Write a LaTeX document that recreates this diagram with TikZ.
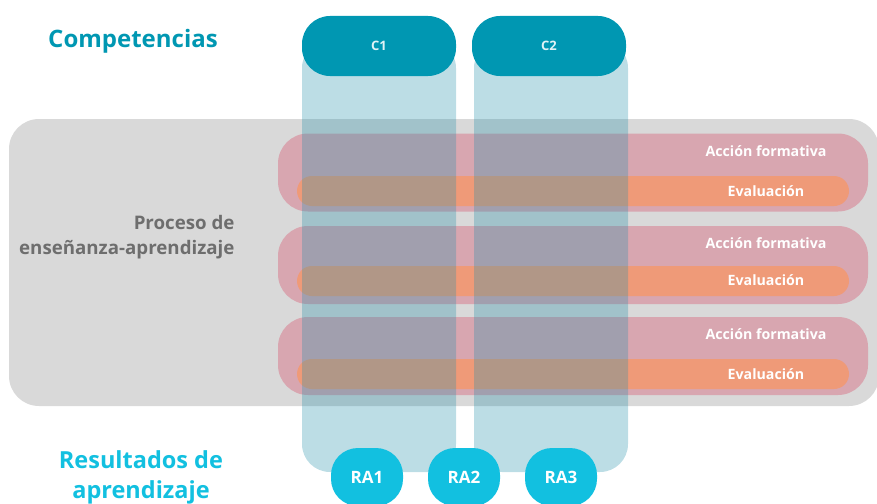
\documentclass[tikz,border=0pt]{standalone}
\usepackage{fontspec}
\setmainfont{Open Sans}
\usepackage{tikz}

\definecolor{grisfondo}{HTML}{D9D9D9}
\definecolor{gristexto}{HTML}{6E6E6E}
\definecolor{rosa}{HTML}{D8A6B0}
\definecolor{naranja}{HTML}{EF9A78}
\definecolor{azulcomp}{HTML}{0097B2}
\definecolor{azulcol}{HTML}{2791AB}
\definecolor{celeste}{HTML}{12C0E0}

\begin{document}
\begin{tikzpicture}[x=1pt,y=-1pt,
	caja/.style={inner sep=0pt, outer sep=0pt},
	fila/.style={caja, fill=rosa, rounded corners=30pt, minimum width=590pt, minimum height=78pt},
	barra/.style={caja, fill=naranja, rounded corners=15pt, minimum width=552pt, minimum height=30pt},
	columna/.style={caja, fill=azulcol, fill opacity=0.31, rounded corners=28pt, minimum width=154pt, minimum height=432pt},
	comp/.style={caja, fill=azulcomp, rounded corners=28pt, minimum width=154pt, minimum height=60pt, text=white!88!azulcomp, font=\fontsize{13}{15}\selectfont\bfseries},
	resul/.style={caja, fill=celeste, rounded corners=27pt, minimum width=72pt, minimum height=58pt, text=white, font=\fontsize{17}{20}\selectfont\bfseries},
	rotulo/.style={text=white, font=\fontsize{14.2}{16}\selectfont\bfseries}]
	\useasboundingbox (0,0) rectangle (877,503);
	%\draw[help lines] (0,0) grid[step=50] (877,503);
	\node[caja, fill=grisfondo, rounded corners=30pt, minimum width=870pt, minimum height=287pt] (proceso) at (444,262.5) {};
	\node[anchor=east, align=right, text=gristexto, font=\fontsize{18.7}{25}\selectfont\bfseries] (procesoTxt) at (238,237.5) {Proceso de\\enseñanza-aprendizaje};

	\node[fila] (accion1) at (573,172.5) {};
	\node[barra] (eval1) at (573,191) {};
	\node[rotulo] (accion1Txt) at (766,151) {Acción formativa};
	\node[rotulo] (eval1Txt) at (766,191) {Evaluación};

	\node[fila] (accion2) at (573,265) {};
	\node[barra] (eval2) at (573,281) {};
	\node[rotulo] (accion2Txt) at (766,243) {Acción formativa};
	\node[rotulo] (eval2Txt) at (766,280) {Evaluación};

	\node[fila] (accion3) at (573,356) {};
	\node[barra] (eval3) at (573,374) {};
	\node[rotulo] (accion3Txt) at (766,334) {Acción formativa};
	\node[rotulo] (eval3Txt) at (766,374) {Evaluación};

	\node[columna] (col1) at (379,256) {};
	\node[columna] (col2) at (551,256) {};
	\node[comp] (c1) at (379,46) {C1};
	\node[comp] (c2) at (549,46) {C2};

	\node[resul] (ra1) at (367,477) {RA1};
	\node[resul] (ra2) at (464,477) {RA2};
	\node[resul] (ra3) at (561,477) {RA3};

	\node[text=azulcomp, font=\fontsize{24}{28}\selectfont\bfseries] (competencias) at (133,41) {Competencias};
	\node[text=celeste, align=center, font=\fontsize{23.5}{30}\selectfont\bfseries] (resultados) at (141,477) {Resultados de\\aprendizaje};
\end{tikzpicture}
\end{document}
